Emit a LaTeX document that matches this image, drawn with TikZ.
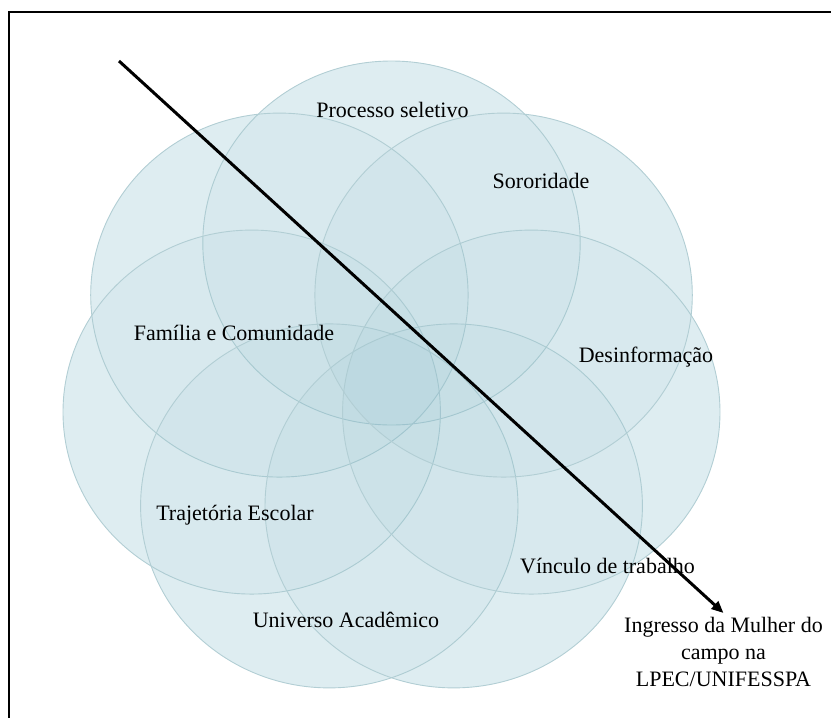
\documentclass[tikz,border=0pt]{standalone}
\usepackage{fontspec}
\setmainfont{Liberation Serif}
\usepackage{tikz}
\usetikzlibrary{arrows.meta,positioning,calc}
\definecolor{petalA}{RGB}{229,241,244}
\definecolor{petalB}{RGB}{120,180,195}
\definecolor{petalC}{RGB}{178,206,212}
\newcommand{\petalpath}[1]{({391.5+143.4*cos(#1)},{381.3-138.3*sin(#1)}) ellipse [x radius=94.35pt, y radius=91pt]}
\tikzset{
  petalbase/.style={fill=petalA},
  petal/.style={fill=petalB,fill opacity=0.06,draw=petalC,line width=0.45pt},
  lbl/.style={anchor=base,inner sep=0pt,font=\fontsize{11}{13.5}\selectfont},
  arrowline/.style={line width=1.5pt,-{Triangle[length=6pt,width=5pt]}}
}

\begin{document}
\begin{tikzpicture}[x=0.5pt,y=-0.5pt]
\useasboundingbox (0,0) rectangle (831,718);
\draw[line width=1pt] (9,718) -- (9,12) -- (831,12);
% seven overlapping circles
\foreach \k in {0,...,6} {\path[petalbase] \petalpath{90+\k*360/7};}
\foreach \k in {0,...,6} {\path[petal] \petalpath{90+\k*360/7};}
\node[lbl] (processo) at (392.5,117) {Processo seletivo};
\node[lbl] (sororidade) at (541,188) {Sororidade};
\node[lbl] (desinfo) at (646,362) {Desinformação};
\node[lbl] (vinculo) at (607.5,573) {Vínculo de trabalho};
\node[lbl] (universo) at (346,627) {Universo Acadêmico};
\node[lbl] (trajetoria) at (235,520) {Trajetória Escolar};
\node[lbl] (familia) at (234,340) {Família e Comunidade};
\node[lbl,anchor=north,align=center,inner sep=2pt] (ingresso) at (723.5,613) {Ingresso da Mulher do\\campo na\\LPEC/UNIFESSPA};
\coordinate (start) at (119,61);
\draw[arrowline] (start) -- (ingresso.north);
\end{tikzpicture}
\end{document}
